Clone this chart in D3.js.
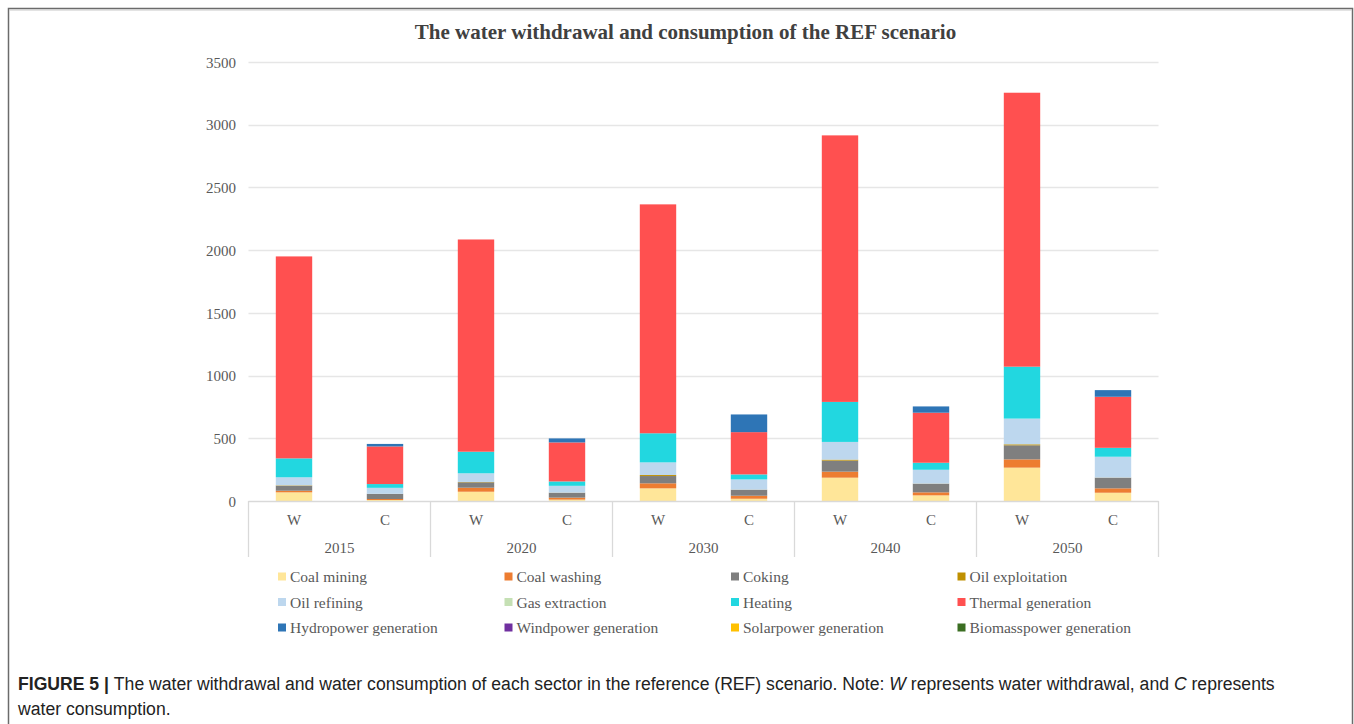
<!DOCTYPE html>
<html><head><meta charset="utf-8">
<script src="https://cdn.jsdelivr.net/npm/d3@7"></script>
<style>
html,body{margin:0;padding:0;background:#fff;}
svg{display:block;}
</style></head>
<body>
<svg id="chart" width="1354" height="724"></svg>
<script>
// ---- data ----
const years = ["2015", "2020", "2030", "2040", "2050"];
const kinds = ["W", "C"];
const yTicks = [0, 500, 1000, 1500, 2000, 2500, 3000, 3500];
const sectors = ["Coal mining", "Coal washing", "Coking", "Oil exploitation", "Oil refining", "Gas extraction",
  "Heating", "Thermal generation", "Hydropower generation", "Windpower generation", "Solarpower generation", "Biomasspower generation"];
const sectorColors = ["#FFE699", "#ED7D31", "#7F7F7F", "#BF9000", "#BDD7EE", "#C5E0B4",
  "#22D7E0", "#FF5050", "#2E75B6", "#7030A0", "#FFC000", "#3B6E22"];
// order of values: 2015W, 2015C, 2020W, 2020C, 2030W, 2030C, 2040W, 2040C, 2050W, 2050C
const coalMining      = [69, 8, 74, 11, 101, 18, 186, 45, 266, 66];
const coalWashing     = [13, 8, 32, 16, 40, 24, 48, 24, 66, 35];
const coking          = [40, 40, 43, 39, 58, 48, 88, 69, 112, 85];
const oilExploitation = [3, 1, 3, 1, 8, 1, 8, 1, 8, 1];
const oilRefining     = [64, 48, 69, 54, 101, 81, 141, 110, 205, 166];
const gasExtraction   = [0, 0, 0, 0, 0, 0, 0, 0, 0, 0];
const heating         = [151, 30, 172, 35, 232, 40, 319, 56, 414, 71];
const thermal         = [1610, 300, 1692, 311, 1825, 337, 2125, 399, 2184, 407];
const hydropower      = [0, 20, 0, 32, 0, 141, 0, 50, 0, 53];
const windpower       = [0, 0, 0, 0, 0, 0, 0, 0, 0, 0];
const solarpower      = [0, 0, 0, 0, 0, 0, 0, 0, 0, 0];
const biomasspower    = [0, 0, 0, 0, 0, 0, 0, 0, 0, 0];
const seriesValues = [coalMining, coalWashing, coking, oilExploitation, oilRefining, gasExtraction,
  heating, thermal, hydropower, windpower, solarpower, biomasspower];

// build table
const rows = [];
years.forEach((y, i) => kinds.forEach((k, j) => {
  const idx = i * 2 + j;
  const r = {year: y, kind: k};
  sectors.forEach((s, si) => r[s] = seriesValues[si][idx]);
  rows.push(r);
}));

const svg = d3.select("#chart");
const serif = "'Liberation Serif', 'Times New Roman', serif";
const sans = "'Liberation Sans', Arial, sans-serif";

// frame
svg.append("path").attr("d", "M8.5,724 L8.5,8.5 L1352.5,8.5 L1352.5,724")
  .attr("fill", "none").attr("stroke", "#6b6b6b").attr("stroke-width", 1.5);
svg.append("line").attr("x1", 9.5).attr("x2", 1351.5).attr("y1", 10).attr("y2", 10)
  .attr("stroke", "#c8c8c8").attr("stroke-width", 1);

// title
svg.append("text").attr("x", 685.5).attr("y", 39).attr("text-anchor", "middle")
  .attr("font-family", serif).attr("font-weight", "bold").attr("font-size", 21).attr("fill", "#404040")
  .text("The water withdrawal and consumption of the REF scenario");

// scales
const plotL = 248.5, plotR = 1158.5;
const y = d3.scaleLinear().domain([0, 3500]).range([501, 62]);
const x0 = d3.scaleBand().domain(years).range([plotL, plotR]).padding(0);
const x1 = d3.scaleBand().domain(kinds).range([0, x0.bandwidth()]).padding(0);
const barW = x1.bandwidth() * 0.4;

// gridlines
svg.append("g").selectAll("line").data(yTicks.filter(d => d > 0)).join("line")
  .attr("x1", plotL).attr("x2", plotR)
  .attr("y1", d => Math.round(y(d)) + 0.5).attr("y2", d => Math.round(y(d)) + 0.5)
  .attr("stroke", "#e6e6e6").attr("stroke-width", 1.3);

// y axis labels
const yAxis = d3.axisLeft(y).tickValues(yTicks).tickFormat(d3.format("d")).tickSize(0).tickPadding(0);
const gy = svg.append("g").attr("transform", "translate(236,0)").call(yAxis);
gy.select(".domain").remove();
gy.selectAll("text").attr("font-family", serif).attr("font-size", 15).attr("fill", "#595959").attr("dy", "0.35em");

// stacked bars
const stack = d3.stack().keys(sectors);
const stacked = stack(rows);
const gBars = svg.append("g");
stacked.forEach((layer, si) => {
  gBars.append("g").attr("fill", sectorColors[si]).selectAll("rect")
    .data(layer.filter(d => d[1] - d[0] > 0)).join("rect")
    .attr("x", d => x0(d.data.year) + x1(d.data.kind) + (x1.bandwidth() - barW) / 2)
    .attr("width", barW)
    .attr("y", d => y(d[1]))
    .attr("height", d => y(d[0]) - y(d[1]));
});

// category axis
const axisCol = "#d9d9d9";
svg.append("line").attr("x1", plotL).attr("x2", plotR).attr("y1", 501.5).attr("y2", 501.5)
  .attr("stroke", axisCol).attr("stroke-width", 1.3);
const seps = years.map(d => x0(d)).concat([plotR]);
svg.append("g").selectAll("line").data(seps).join("line")
  .attr("x1", d => d).attr("x2", d => d).attr("y1", 501).attr("y2", 557)
  .attr("stroke", axisCol).attr("stroke-width", 1.3);
const gx = svg.append("g");
years.forEach(yr => {
  kinds.forEach(k => {
    gx.append("text").attr("x", x0(yr) + x1(k) + x1.bandwidth() / 2).attr("y", 525)
      .attr("text-anchor", "middle").attr("font-family", serif).attr("font-size", 15).attr("fill", "#595959").text(k);
  });
  gx.append("text").attr("x", x0(yr) + x0.bandwidth() / 2).attr("y", 553)
    .attr("text-anchor", "middle").attr("font-family", serif).attr("font-size", 15).attr("fill", "#595959").text(yr);
});

// legend
const legX = [278, 504.5, 731, 957.5], legY = [577, 602.5, 628];
const gl = svg.append("g");
sectors.forEach((s, i) => {
  const cx = legX[i % 4], cy = legY[Math.floor(i / 4)];
  gl.append("rect").attr("x", cx).attr("y", cy - 4.5).attr("width", 8).attr("height", 8).attr("fill", sectorColors[i]);
  gl.append("text").attr("x", cx + 12).attr("y", cy).attr("dy", "0.35em")
    .attr("font-family", serif).attr("font-size", 15.5).attr("fill", "#595959").text(s);
});

// caption
const cap1 = svg.append("text").attr("x", 18).attr("y", 690).attr("font-family", sans).attr("font-size", 17.6).attr("fill", "#222");
cap1.append("tspan").attr("font-weight", "bold").text("FIGURE 5 | ");
cap1.append("tspan").text("The water withdrawal and water consumption of each sector in the reference (REF) scenario. Note: ");
cap1.append("tspan").attr("font-style", "italic").text("W");
cap1.append("tspan").text(" represents water withdrawal, and ");
cap1.append("tspan").attr("font-style", "italic").text("C");
cap1.append("tspan").text(" represents");
svg.append("text").attr("x", 18).attr("y", 715).attr("font-family", sans).attr("font-size", 17.6).attr("fill", "#222")
  .text("water consumption.");
</script>
</body></html>
